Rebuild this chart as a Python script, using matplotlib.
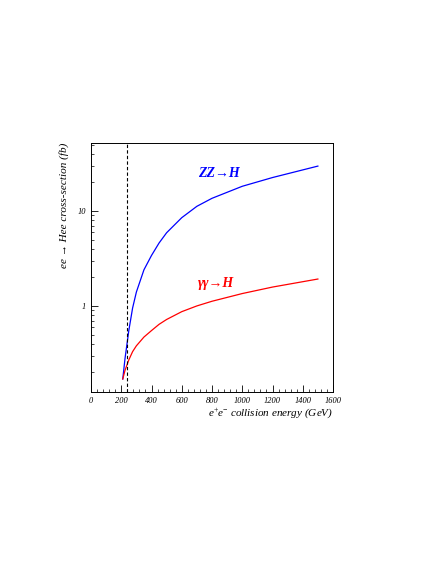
import matplotlib
matplotlib.use("Agg")
import matplotlib.pyplot as plt
from matplotlib.ticker import FixedLocator, NullFormatter

energy = [210, 225, 250, 275, 300, 350, 400, 450, 500, 600, 700, 800, 1000, 1200, 1500]
zz = [0.17, 0.28, 0.55, 0.95, 1.4, 2.4, 3.4, 4.6, 5.9, 8.5, 11.2, 13.6, 18.2, 22.5, 29.7]
gg = [0.17, 0.21, 0.27, 0.33, 0.38, 0.47, 0.55, 0.64, 0.72, 0.87, 1.0, 1.12, 1.35, 1.58, 1.92]
xticks = [0, 200, 400, 600, 800, 1000, 1200, 1400, 1600]
threshold = 240

plt.rcParams['font.family'] = ['Liberation Serif', 'DejaVu Serif']
plt.rcParams['mathtext.fontset'] = 'custom'
plt.rcParams['mathtext.rm'] = 'Liberation Serif'
plt.rcParams['mathtext.it'] = 'Liberation Serif:italic'
fig = plt.figure(figsize=(4.36, 5.64), dpi=100)
ax = fig.add_axes([91/436, 1-392/564, 242/436, 249/564])
ax.plot(energy, zz, color='blue', lw=0.9)
ax.plot(energy, gg, color='red', lw=0.9)
ax.axvline(threshold, color='black', ls=(0, (3, 2)), lw=0.8)
ax.set_yscale('log')
ax.set_xlim(0, 1600)
ax.set_ylim(0.124, 52)
ax.set_xticks(xticks)
ax.set_xticklabels([str(t) for t in xticks], fontsize=6, style='italic')
ax.xaxis.set_minor_locator(FixedLocator(range(0, 1601, 40)))
ax.set_yticks([1, 10])
ax.set_yticklabels(['1', '10'], fontsize=6, style='italic')
ax.yaxis.set_minor_formatter(NullFormatter())
ax.tick_params(direction='in', length=5, width=0.6, top=False, right=False)
ax.tick_params(which='minor', direction='in', length=2.5, width=0.5)
for s in ax.spines.values():
    s.set_linewidth(0.7)
ax.text(710, 23, 'ZZ→H', color='blue', fontsize=10, style='italic', weight='bold')
ax.text(710, 1.6, 'γγ→H', color='red', fontsize=10, style='italic', weight='bold')
ax.set_xlabel('e$^{+}$e$^{-}$ collision energy (GeV)', fontsize=8, style='italic', loc='right', labelpad=1)
ax.set_ylabel('ee → Hee cross-section (fb)', fontsize=8, style='italic', loc='top', labelpad=6)
fig.savefig('out.png', dpi=100)
